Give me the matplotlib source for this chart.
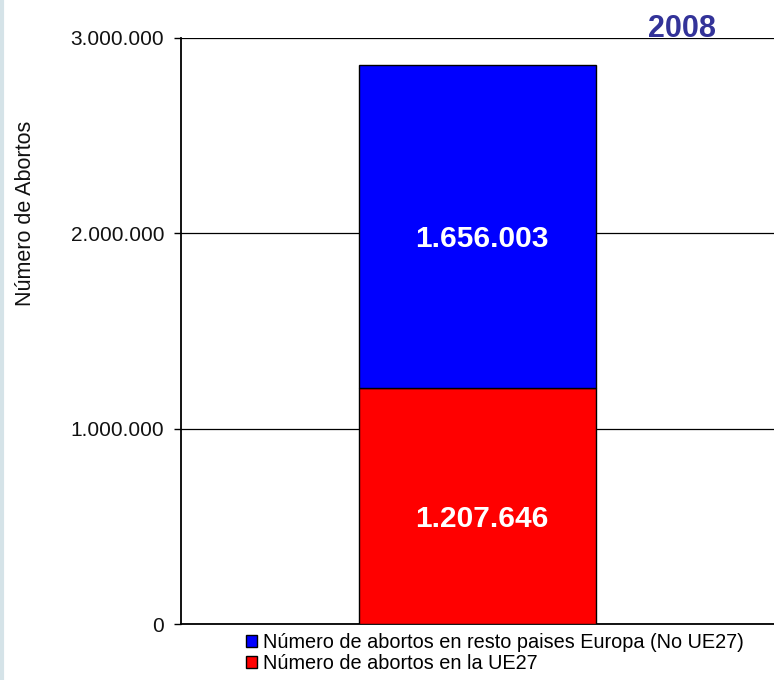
import matplotlib.pyplot as plt
from matplotlib.lines import Line2D

plt.rcParams['font.family'] = ['Liberation Sans', 'DejaVu Sans']

# Data
year = '2008'
series_names = ['Número de abortos en la UE27',
                'Número de abortos en resto paises Europa (No UE27)']
series_values = [1207646, 1656003]
series_colors = ['#ff0000', '#0000ff']
y_ticks = [0, 1000000, 2000000, 3000000]
y_tick_labels = ['0', '1.000.000', '2.000.000', '3.000.000']


def fmt(v):
    return '{:,}'.format(v).replace(',', '.')


fig = plt.figure(figsize=(7.74, 6.8), dpi=100)
ax = fig.add_axes([181 / 774, 1 - 624 / 680, 1 - 181 / 774, (624 - 38) / 680])

bottom = 0
bars = []
for name, val, col in zip(series_names, series_values, series_colors):
    b = ax.bar(0.5, val, width=0.40, bottom=bottom, color=col,
               edgecolor='black', linewidth=1.0, label=name, zorder=3)
    bars.append(b)
    ax.annotate(fmt(val), xy=(0.5, bottom + val / 2), xytext=(3, -9),
                textcoords='offset points', ha='center', va='center',
                color='white', fontsize=21.5, fontweight='bold', zorder=4)
    bottom += val

ax.set_xlim(0, 1)
ax.set_ylim(0, 3000000)
ax.set_xticks([])
ax.set_yticks(y_ticks)
ax.set_yticklabels(y_tick_labels, fontsize=15, color='#111111')
ax.tick_params(axis='y', length=5, width=1, pad=7, color='black')
ax.yaxis.grid(True, color='black', linewidth=0.9, zorder=0)
ax.set_axisbelow(True)
for s in ['top', 'right']:
    ax.spines[s].set_visible(False)
ax.spines['left'].set_linewidth(1.3)
ax.spines['bottom'].set_linewidth(1.3)
ax.set_ylabel('Número de Abortos', fontsize=15.5, color='#111111')
ax.yaxis.set_label_coords(-0.245, 0.701)

# year tag
fig.text(682 / 774, 1 - 29 / 680, year, ha='center', va='center',
         fontsize=22, fontweight='bold', color='#333399')

# legend below (blue on top)
handles = [bars[1], bars[0]]
labels = [series_names[1], series_names[0]]
fig.legend(handles, labels, loc='upper left',
           bbox_to_anchor=(246 / 774, 1 - 633 / 680), frameon=False,
           fontsize=14.3, handlelength=0.55, handleheight=0.55,
           handletextpad=0.3, labelspacing=0.12, borderpad=0,
           borderaxespad=0)

# light border at left edge
fig.add_artist(Line2D([0.002, 0.002], [0, 1], transform=fig.transFigure,
                      color='#d5e3e8', linewidth=3))

fig.savefig('out.png', dpi=100)
